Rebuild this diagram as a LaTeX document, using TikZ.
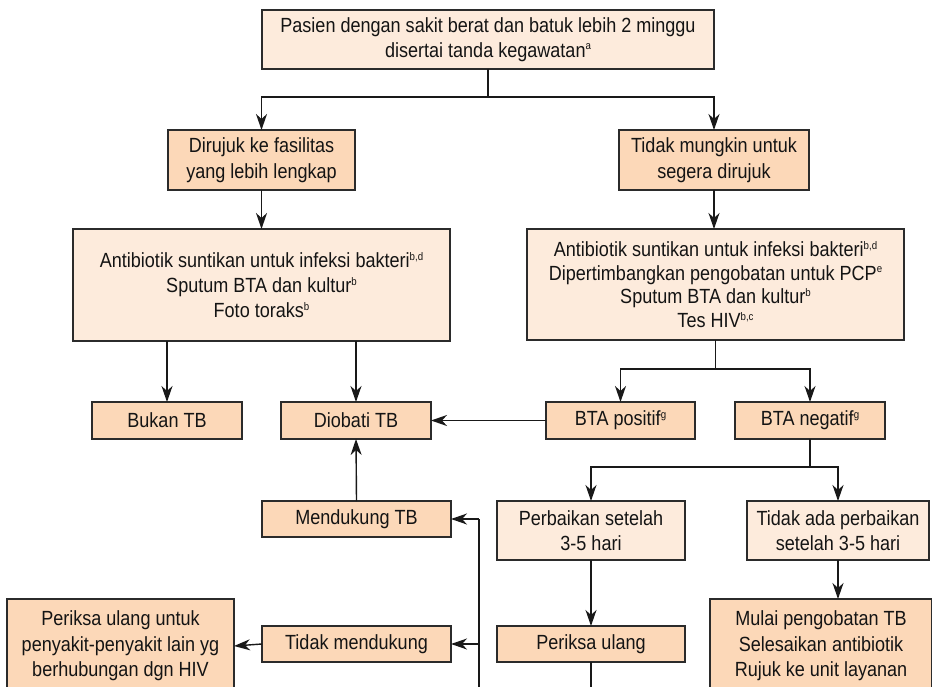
\documentclass[tikz,border=0pt]{standalone}
\usepackage{fontspec}
\setmainfont{Liberation Sans}[FakeStretch=0.88]
\usetikzlibrary{arrows.meta}
\definecolor{boxlight}{HTML}{FDEBDC}
\definecolor{boxdark}{HTML}{FCD8B8}
\definecolor{edgecol}{HTML}{2B2B2B}
\newcommand\fnote[1]{\raisebox{0.36em}{\fontsize{11}{11}\selectfont #1}}
\begin{document}
\begin{tikzpicture}[x=1pt,y=-1pt,
  boxbase/.style={draw=edgecol,line width=1.4pt,align=center,inner sep=0pt,outer sep=0pt,
    font=\fontsize{20.5}{25}\selectfont,text=black!92},
  lightbox/.style={boxbase,fill=boxlight},
  darkbox/.style={boxbase,fill=boxdark},
  conn/.style={line width=1.4pt,draw=black!90},
  arr/.style={conn,-{Stealth[length=16pt,width=11pt,inset=5pt]}}]
\clip (0,0) rectangle (932,687);
\fill[white] (0,0) rectangle (932,687);
% nodes
\node[lightbox,minimum width=452pt,minimum height=59pt] (top) at (488,39.5)
  {Pasien dengan sakit berat dan batuk lebih 2 minggu\\disertai tanda kegawatan\fnote{a}};
\node[darkbox,minimum width=187pt,minimum height=60pt,font=\fontsize{20.5}{26.5}\selectfont] (dir) at (261.5,160)
  {Dirujuk ke fasilitas\\yang lebih lengkap};
\node[darkbox,minimum width=190pt,minimum height=60pt,font=\fontsize{20.5}{26.5}\selectfont] (tdk) at (714,160)
  {Tidak mungkin untuk\\segera dirujuk};
\node[lightbox,minimum width=377pt,minimum height=112pt] (antL) at (261.5,285)
  {Antibiotik suntikan untuk infeksi bakteri\fnote{b,d}\\Sputum BTA dan kultur\fnote{b}\\Foto toraks\fnote{b}};
\node[lightbox,minimum width=377pt,minimum height=111pt,font=\fontsize{20.5}{23.7}\selectfont] (antR) at (715.5,284.5)
  {Antibiotik suntikan untuk infeksi bakteri\fnote{b,d}\\Dipertimbangkan pengobatan untuk PCP\fnote{e}\\Sputum BTA dan kultur\fnote{b}\\Tes HIV\fnote{b,c}};
\node[darkbox,minimum width=150pt,minimum height=37pt] (bukan) at (167,420.5) {Bukan TB};
\node[darkbox,minimum width=150pt,minimum height=37pt] (diobati) at (356,420.5) {Diobati TB};
\node[darkbox,minimum width=149pt,minimum height=37pt] (bpos) at (620.5,420.5) {BTA positif\fnote{g}};
\node[darkbox,minimum width=150pt,minimum height=37pt] (bneg) at (810,420.5) {BTA negatif\fnote{g}};
\node[darkbox,minimum width=189pt,minimum height=36pt] (mend) at (356.5,519) {Mendukung TB};
\node[lightbox,minimum width=188pt,minimum height=59pt] (perb) at (591,530.5) {Perbaikan setelah\\3-5 hari};
\node[lightbox,minimum width=182pt,minimum height=59pt] (tdkada) at (838,530.5) {Tidak ada perbaikan\\setelah 3-5 hari};
\node[darkbox,minimum width=189pt,minimum height=36pt] (tmend) at (356.5,644) {Tidak mendukung};
\node[darkbox,minimum width=188pt,minimum height=36pt] (pu) at (591,644) {Periksa ulang};
\node[darkbox,minimum width=227pt,minimum height=94pt,font=\fontsize{20.5}{25.5}\selectfont] (puu) at (120.5,646)
  {Periksa ulang untuk\\penyakit-penyakit lain yg\\berhubungan dgn HIV};
\node[darkbox,minimum width=222pt,minimum height=94pt,font=\fontsize{20.5}{25.5}\selectfont] (mulai) at (821,646)
  {Mulai pengobatan TB\\Selesaikan antibiotik\\Rujuk ke unit layanan};
% junction coordinates
\coordinate (s1) at (488,97);
\coordinate (s2) at (715.5,369);
\coordinate (s3) at (810,467);
\coordinate (vb) at (479,700);
\coordinate (vm) at (479,519);
\coordinate (vt) at (479,644);
\coordinate (pb) at (591,700);
% connectors
\draw[conn] (top.south) -- (s1);
\draw[arr] (s1) -| (dir.north);
\draw[arr] (s1) -| (tdk.north);
\draw[arr] (dir.south) -- (antL.north -| dir.south);
\draw[arr] (tdk.south) -- (antR.north -| tdk.south);
\draw[arr] (antL.south -| bukan.north) -- (bukan.north);
\draw[arr] (antL.south -| diobati.north) -- (diobati.north);
\draw[conn] (antR.south) -- (s2);
\draw[arr] (s2) -| (bpos.north);
\draw[arr] (s2) -| (bneg.north);
\draw[arr] (bpos.west) -- (diobati.east);
\draw[conn] (bneg.south) -- (s3);
\draw[arr] (s3) -| (perb.north);
\draw[arr] (s3) -| (tdkada.north);
\draw[arr] (perb.south) -- (pu.north);
\draw[arr] (tdkada.south) -- (tdkada.south |- mulai.north);
\draw[arr] (mend.north) -- (diobati.south);
\draw[conn] (vb) -- (vm);
\draw[arr] (vm) -- (mend.east);
\draw[arr] (vt) -- (tmend.east);
\draw[arr] (tmend.west) -- (puu.east);
\draw[conn] (pu.south) -- (pb);
\end{tikzpicture}
\end{document}
